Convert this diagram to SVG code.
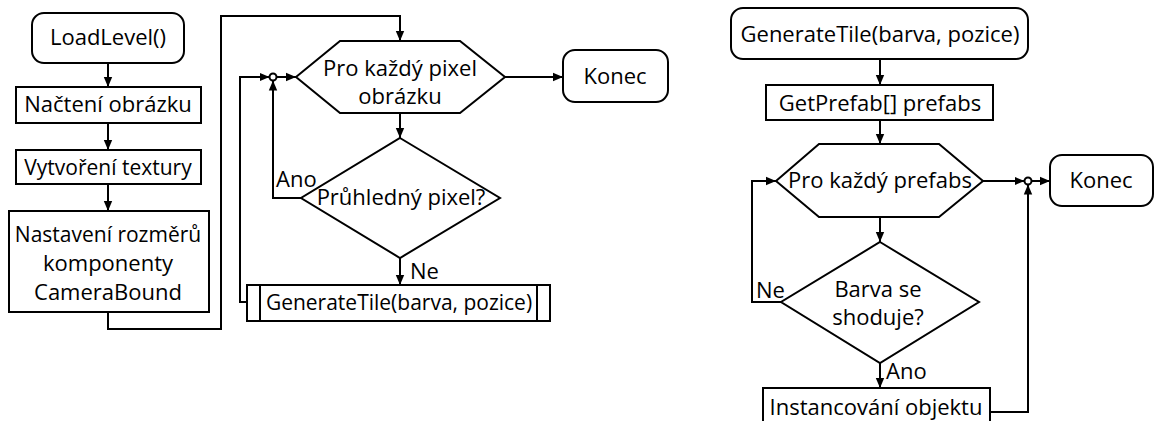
<svg xmlns="http://www.w3.org/2000/svg" width="1156" height="421" viewBox="0 0 1156 421">
<style>
.s{fill:#fff;stroke:#000;stroke-width:2}
.c{fill:none;stroke:#000;stroke-width:2}
text{font-family:"Open Sans","Noto Sans",sans-serif;font-size:22px;fill:#000;text-anchor:middle}
.l{text-anchor:start}
.n{font-size:21px}
</style>
<defs>
<marker id="a" markerUnits="userSpaceOnUse" markerWidth="10" markerHeight="10" refX="10" refY="5" orient="auto"><path d="M0,0.8 L10,5 L0,9.2 z" fill="#000"/></marker>
</defs>
<rect width="1156" height="421" fill="#fff"/>
<g id="connectors">
<path class="c" d="M108,63 V87" marker-end="url(#a)"/>
<path class="c" d="M108,123 V150" marker-end="url(#a)"/>
<path class="c" d="M108,184 V211" marker-end="url(#a)"/>
<path class="c" d="M108,312 V329 H221 V16 H400 V41" marker-end="url(#a)"/>
<path class="c" d="M505,77 H563" marker-end="url(#a)"/>
<path class="c" d="M276.5,77 H296" marker-end="url(#a)"/>
<path class="c" d="M400,113 V138" marker-end="url(#a)"/>
<path class="c" d="M301,198 H273 V80.5" marker-end="url(#a)"/>
<path class="c" d="M400,258 V285" marker-end="url(#a)"/>
<path class="c" d="M247,302 H240 V77 H269.5" marker-end="url(#a)"/>
<circle class="s" cx="273" cy="77" r="3.5"/>
<path class="c" d="M880,59 V85" marker-end="url(#a)"/>
<path class="c" d="M880,120 V144" marker-end="url(#a)"/>
<path class="c" d="M983,181 H1024.5" marker-end="url(#a)"/>
<path class="c" d="M1031.5,181 H1050" marker-end="url(#a)"/>
<path class="c" d="M880,217 V242" marker-end="url(#a)"/>
<path class="c" d="M781,302 H752 V181 H776" marker-end="url(#a)"/>
<path class="c" d="M880,363 V388" marker-end="url(#a)"/>
<path class="c" d="M990,412 H1028 V184.5" marker-end="url(#a)"/>
<circle class="s" cx="1028" cy="181" r="3.5"/>
<text class="l" x="276" y="187">Ano</text>
<text class="l" x="410" y="279">Ne</text>
<text class="l" x="756" y="298">Ne</text>
<text class="l" x="886" y="379">Ano</text>
</g>
<g id="loadlevel"><rect class="s" x="32" y="13" width="152" height="50" rx="12"/><text x="108" y="45">LoadLevel()</text></g>
<g id="nacteni"><rect class="s" x="16" y="87" width="185" height="36"/><text x="108" y="112">Načtení obrázku</text></g>
<g id="vytvoreni"><rect class="s" x="16" y="150" width="185" height="34"/><text class="n" x="108" y="175">Vytvoření textury</text></g>
<g id="nastaveni"><rect class="s" x="9" y="211" width="200" height="101"/><text class="n" x="108" y="242">Nastavení rozměrů</text><text x="108" y="271">komponenty</text><text x="108" y="300">CameraBound</text></g>
<g id="loop1"><polygon class="s" points="296,77 340,41 460,41 505,77 460,113 340,113"/><text x="400" y="76">Pro každý pixel</text><text x="400" y="104">obrázku</text></g>
<g id="konec1"><rect class="s" x="563" y="50" width="105" height="52" rx="12"/><text x="615" y="84">Konec</text></g>
<g id="pruhledny"><polygon class="s" points="400,138 500,198 400,258 301,198"/><text x="401" y="205">Průhledný pixel?</text></g>
<g id="generate1"><rect class="s" x="247" y="285" width="303" height="36"/><path class="c" d="M260,285 V321 M537,285 V321"/><text class="n" x="399" y="310">GenerateTile(barva, pozice)</text></g>
<g id="generate2"><rect class="s" x="731" y="8" width="297" height="51" rx="12"/><text x="880" y="42">GenerateTile(barva, pozice)</text></g>
<g id="getprefab"><rect class="s" x="766" y="85" width="227" height="35"/><text x="880" y="111">GetPrefab[] prefabs</text></g>
<g id="loop2"><polygon class="s" points="776,181 819,144 939,144 983,181 939,217 819,217"/><text x="880" y="188">Pro každý prefabs</text></g>
<g id="konec2"><rect class="s" x="1050" y="155" width="103" height="51" rx="12"/><text x="1101" y="188">Konec</text></g>
<g id="barva"><polygon class="s" points="880,242 979,302 880,363 781,302"/><text x="878" y="297">Barva se</text><text x="878" y="325">shoduje?</text></g>
<g id="instancovani"><rect class="s" x="763" y="388" width="227" height="50"/><text x="876" y="415">Instancování objektu</text></g>
</svg>
